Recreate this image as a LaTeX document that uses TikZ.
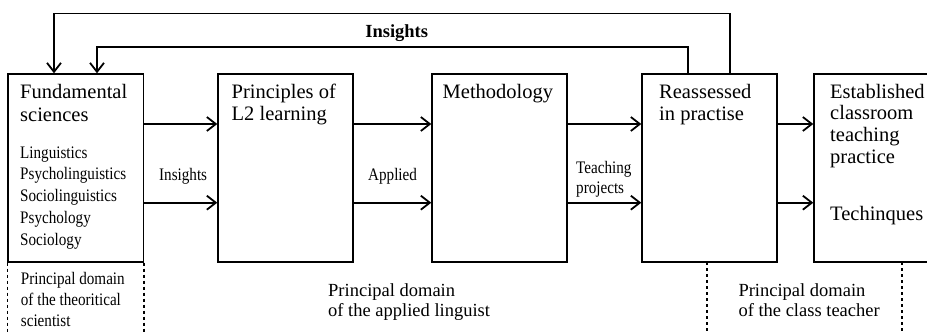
\documentclass[tikz,border=0pt]{standalone}
\usepackage{fontspec}
\setmainfont{Liberation Serif}
\newfontfamily\condfont[FakeStretch=0.86]{Liberation Serif}
\usetikzlibrary{arrows.meta}
\tikzset{
  box/.style={draw, line width=1.4pt, minimum height=188pt, inner sep=0pt},
  arr/.style={line width=1.8pt, -{Straight Barb[length=9pt,width=14pt,line width=1.8pt]}},
  big/.style={anchor=base west, inner sep=0pt, align=left, font=\fontsize{20.5}{22.5}\selectfont},
  small/.style={anchor=base west, inner sep=0pt, align=left, font=\condfont\fontsize{17.6}{21.7}\selectfont},
  dom/.style={anchor=base west, inner sep=0pt, align=left, font=\fontsize{18.5}{20}\selectfont},
  dots/.style={line width=1.5pt, dash pattern=on 3pt off 3pt}
}
\begin{document}
\begin{tikzpicture}[x=1pt,y=-1pt]
\useasboundingbox (0,0) rectangle (927,333);
% boxes
\node[box, minimum width=135.5pt] (b1) at (75.75,168) {};
\node[box, minimum width=135pt] (b2) at (285.5,168) {};
\node[box, minimum width=135pt] (b3) at (499.5,168) {};
\node[box, minimum width=135pt] (b4) at (709.5,168) {};
\node[box, minimum width=136pt] (b5) at (882,168) {};
% box texts (anchored at the baseline of the last line)
\node[big] (t1) at (20,121.3) {Fundamental\\sciences};
\node[small] (t1b) at (20,245) {Linguistics\\Psycholinguistics\\Sociolinguistics\\Psychology\\Sociology};
\node[big] (t2) at (231.5,120.8) {Principles of\\L2 learning};
\node[big] (t3) at (442.5,98.3) {Methodology};
\node[big] (t4) at (659,120.8) {Reassessed\\in practise};
\node[big, font=\fontsize{20.5}{21.7}\selectfont] (t5) at (830,163.3) {Established\\classroom\\teaching\\practice};
\node[big] (t5b) at (830,220) {Techinques};
% horizontal arrows
\coordinate (ua) at (0,124);
\coordinate (la) at (0,202.7);
\draw[arr] (b1.east |- ua) -- (b2.west |- ua);
\draw[arr] (b1.east |- la) -- (b2.west |- la);
\draw[arr] (b2.east |- ua) -- (b3.west |- ua);
\draw[arr] (b2.east |- la) -- (b3.west |- la);
\draw[arr] (b3.east |- ua) -- (b4.west |- ua);
\draw[arr] (b3.east |- la) -- (b4.west |- la);
\draw[arr] (b4.east |- ua) -- (b5.west |- ua);
\draw[arr] (b4.east |- la) -- (b5.west |- la);
% arrow labels
\node[small] (l1) at (159,180.7) {Insights};
\node[small] (l2) at (368,180.7) {Applied};
\node[small, font=\condfont\fontsize{17.6}{20}\selectfont] (l3) at (576,193.3) {Teaching\\projects};
% top feedback arrows
\coordinate (o1) at (730,13.5);
\coordinate (o2) at (54,13.5);
\coordinate (i1) at (687.7,46.7);
\coordinate (i2) at (97,46.7);
\draw[arr] (b4.north -| o1) -- (o1) -- (o2) -- (b1.north -| o2);
\draw[arr] (b4.north -| i1) -- (i1) -- (i2) -- (b1.north -| i2);
\node[anchor=base, inner sep=0pt, font=\bfseries\fontsize{18.5}{20}\selectfont] (ins) at (396.7,37.7) {Insights};
% dotted domain lines
\coordinate (dm) at (707,262);
\coordinate (dr) at (902,262);
\draw[dots] (b1.south west) -- ++(0,71);
\draw[dots] (b1.south east) -- ++(0,71);
\draw[dots] (dm) -- ++(0,71);
\draw[dots] (dr) -- ++(0,71);
% domain labels
\node[small, font=\condfont\fontsize{17.6}{21}\selectfont] (d1) at (20.7,326.7) {Principal domain\\of the theoritical\\scientist};
\node[dom] (d2) at (328,316.7) {Principal domain\\of the applied linguist};
\node[dom] (d3) at (738.3,316.7) {Principal domain\\of the class teacher};
\end{tikzpicture}
\end{document}
